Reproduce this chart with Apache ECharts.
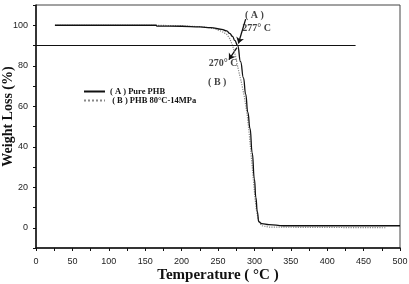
<!DOCTYPE html>
<html><head><meta charset="utf-8">
<script src="https://cdn.jsdelivr.net/npm/echarts@6/dist/echarts.min.js"></script>
<style>html,body{margin:0;padding:0;background:#fff}#c{width:409px;height:284px}</style>
</head><body><div id="c"></div>
<script>
// Series A: Pure PHB (temperature °C, weight %)
var tempA = [26, 100, 165, 166, 200, 225, 240, 255, 262, 266, 270, 273, 277, 281, 285, 288, 291, 294, 297, 300, 302, 304, 306, 310, 320, 340, 500];
var valA  = [100, 100, 100, 99.6, 99.5, 99.2, 98.8, 98, 97.2, 96, 94.5, 92.5, 90, 82, 74, 66, 57, 49, 37, 24, 15, 8, 3, 2, 1.5, 1, 1];
// Series B: PHB 80°C-14MPa
var tempB = [26, 165, 200, 230, 245, 255, 262, 266, 270, 274, 278, 282, 286, 290, 293, 296, 299, 301, 303, 306, 310, 320, 480];
var valB  = [100, 100, 99.7, 99.2, 98.3, 97, 95.5, 93.5, 90, 85, 78, 72, 65, 56, 46, 34, 22, 14, 8, 3, 1, 0.3, 0];
// Reference line at 90 %
var refLineX = [0, 439];
var refLineY = [90, 90];
// Annotation texts (temperature, weight)
var annoText = ['( A )', '277° C', '270° C', '( B )'];
var annoX = [300, 303, 257, 249];
var annoY = [104.7, 98.3, 81, 71.7];
// Arrows [fromT, fromW, toT, toW]
var arrows = [[288, 103, 278, 91], [276, 89, 265, 83]];
var xTicks = [0, 50, 100, 150, 200, 250, 300, 350, 400, 450, 500];
var yTicks = [0, 20, 40, 60, 80, 100];
var legendNames = ['( A ) Pure PHB', ' ( B ) PHB 80°C-14MPa'];

function zip(a, b) { return a.map(function (v, i) { return [v, b[i]]; }); }

var chart = echarts.init(document.getElementById('c'), null, {renderer: 'canvas'});
var tickFont = {fontFamily: 'Liberation Sans', fontSize: 9, color: '#222'};
var serif = 'Liberation Serif';
chart.setOption({
  animation: false,
  backgroundColor: '#fff',
  grid: {left: 36, right: 9, top: 5, bottom: 36, containLabel: false, outerBoundsMode: 'none',
         show: true, borderColor: '#444', borderWidth: 1},
  legend: {
    left: 78, top: 82, orient: 'vertical', itemWidth: 21, itemHeight: 6, itemGap: 0,
    itemStyle: {opacity: 0},
    textStyle: {fontFamily: serif, fontWeight: 'bold', fontSize: 8.5, lineHeight: 8, color: '#111'},
    data: legendNames
  },
  xAxis: {
    type: 'value', min: 0, max: 500, interval: 50,
    name: 'Temperature ( °C )', nameLocation: 'middle', nameGap: 20, nameMoveOverlap: false,
    nameTextStyle: {fontFamily: serif, fontWeight: 'bold', fontSize: 15, color: '#111'},
    axisLine: {onZero: false, lineStyle: {color: '#111', width: 1.5}},
    axisTick: {inside: false, length: 3, lineStyle: {color: '#111'}},
    minorTick: {show: true, splitNumber: 2, length: 3, lineStyle: {color: '#111'}},
    axisLabel: Object.assign({margin: 9}, tickFont),
    splitLine: {show: false}
  },
  yAxis: {
    type: 'value', min: -10, max: 110, interval: 10,
    name: 'Weight Loss (%)', nameLocation: 'middle', nameGap: 21, nameMoveOverlap: false,
    nameTextStyle: {fontFamily: serif, fontWeight: 'bold', fontSize: 14, color: '#111', padding: [0, 0, 0, 20]},
    axisLine: {onZero: false, lineStyle: {color: '#111', width: 1.5}},
    axisTick: {length: 3, lineStyle: {color: '#111'}},
    axisLabel: Object.assign({margin: 8, formatter: function (v) { return yTicks.indexOf(v) >= 0 ? String(v) : ''; }}, tickFont),
    splitLine: {show: false}
  },
  series: [
    {name: legendNames[1], type: 'line', data: zip(tempB, valB), symbol: 'none', smooth: false,
     lineStyle: {color: '#888', width: 1.2, type: 'dotted'}, itemStyle: {color: '#888'}},
    {name: legendNames[0], type: 'line', data: zip(tempA, valA), symbol: 'none', smooth: true, smoothMonotone: 'x',
     lineStyle: {color: '#111', width: 1.3}, itemStyle: {color: '#111'}},
    {type: 'line', data: zip(refLineX, refLineY), symbol: 'none', silent: true,
     lineStyle: {color: '#111', width: 1}},
    {type: 'scatter', symbolSize: 0, silent: true,
     data: annoText.map(function (t, i) { return {name: t, value: [annoX[i], annoY[i]]}; }),
     label: {show: true, position: 'inside', formatter: '{b}', fontFamily: serif, fontWeight: 'bold', fontSize: 10, color: '#111'}},
    {type: 'lines', coordinateSystem: 'cartesian2d', silent: true,
     symbol: ['none', 'arrow'], symbolSize: 6,
     lineStyle: {color: '#111', width: 1.3, opacity: 1},
     data: arrows.map(function (a) { return {coords: [[a[0], a[1]], [a[2], a[3]]]}; })}
  ]
});
</script></body></html>
